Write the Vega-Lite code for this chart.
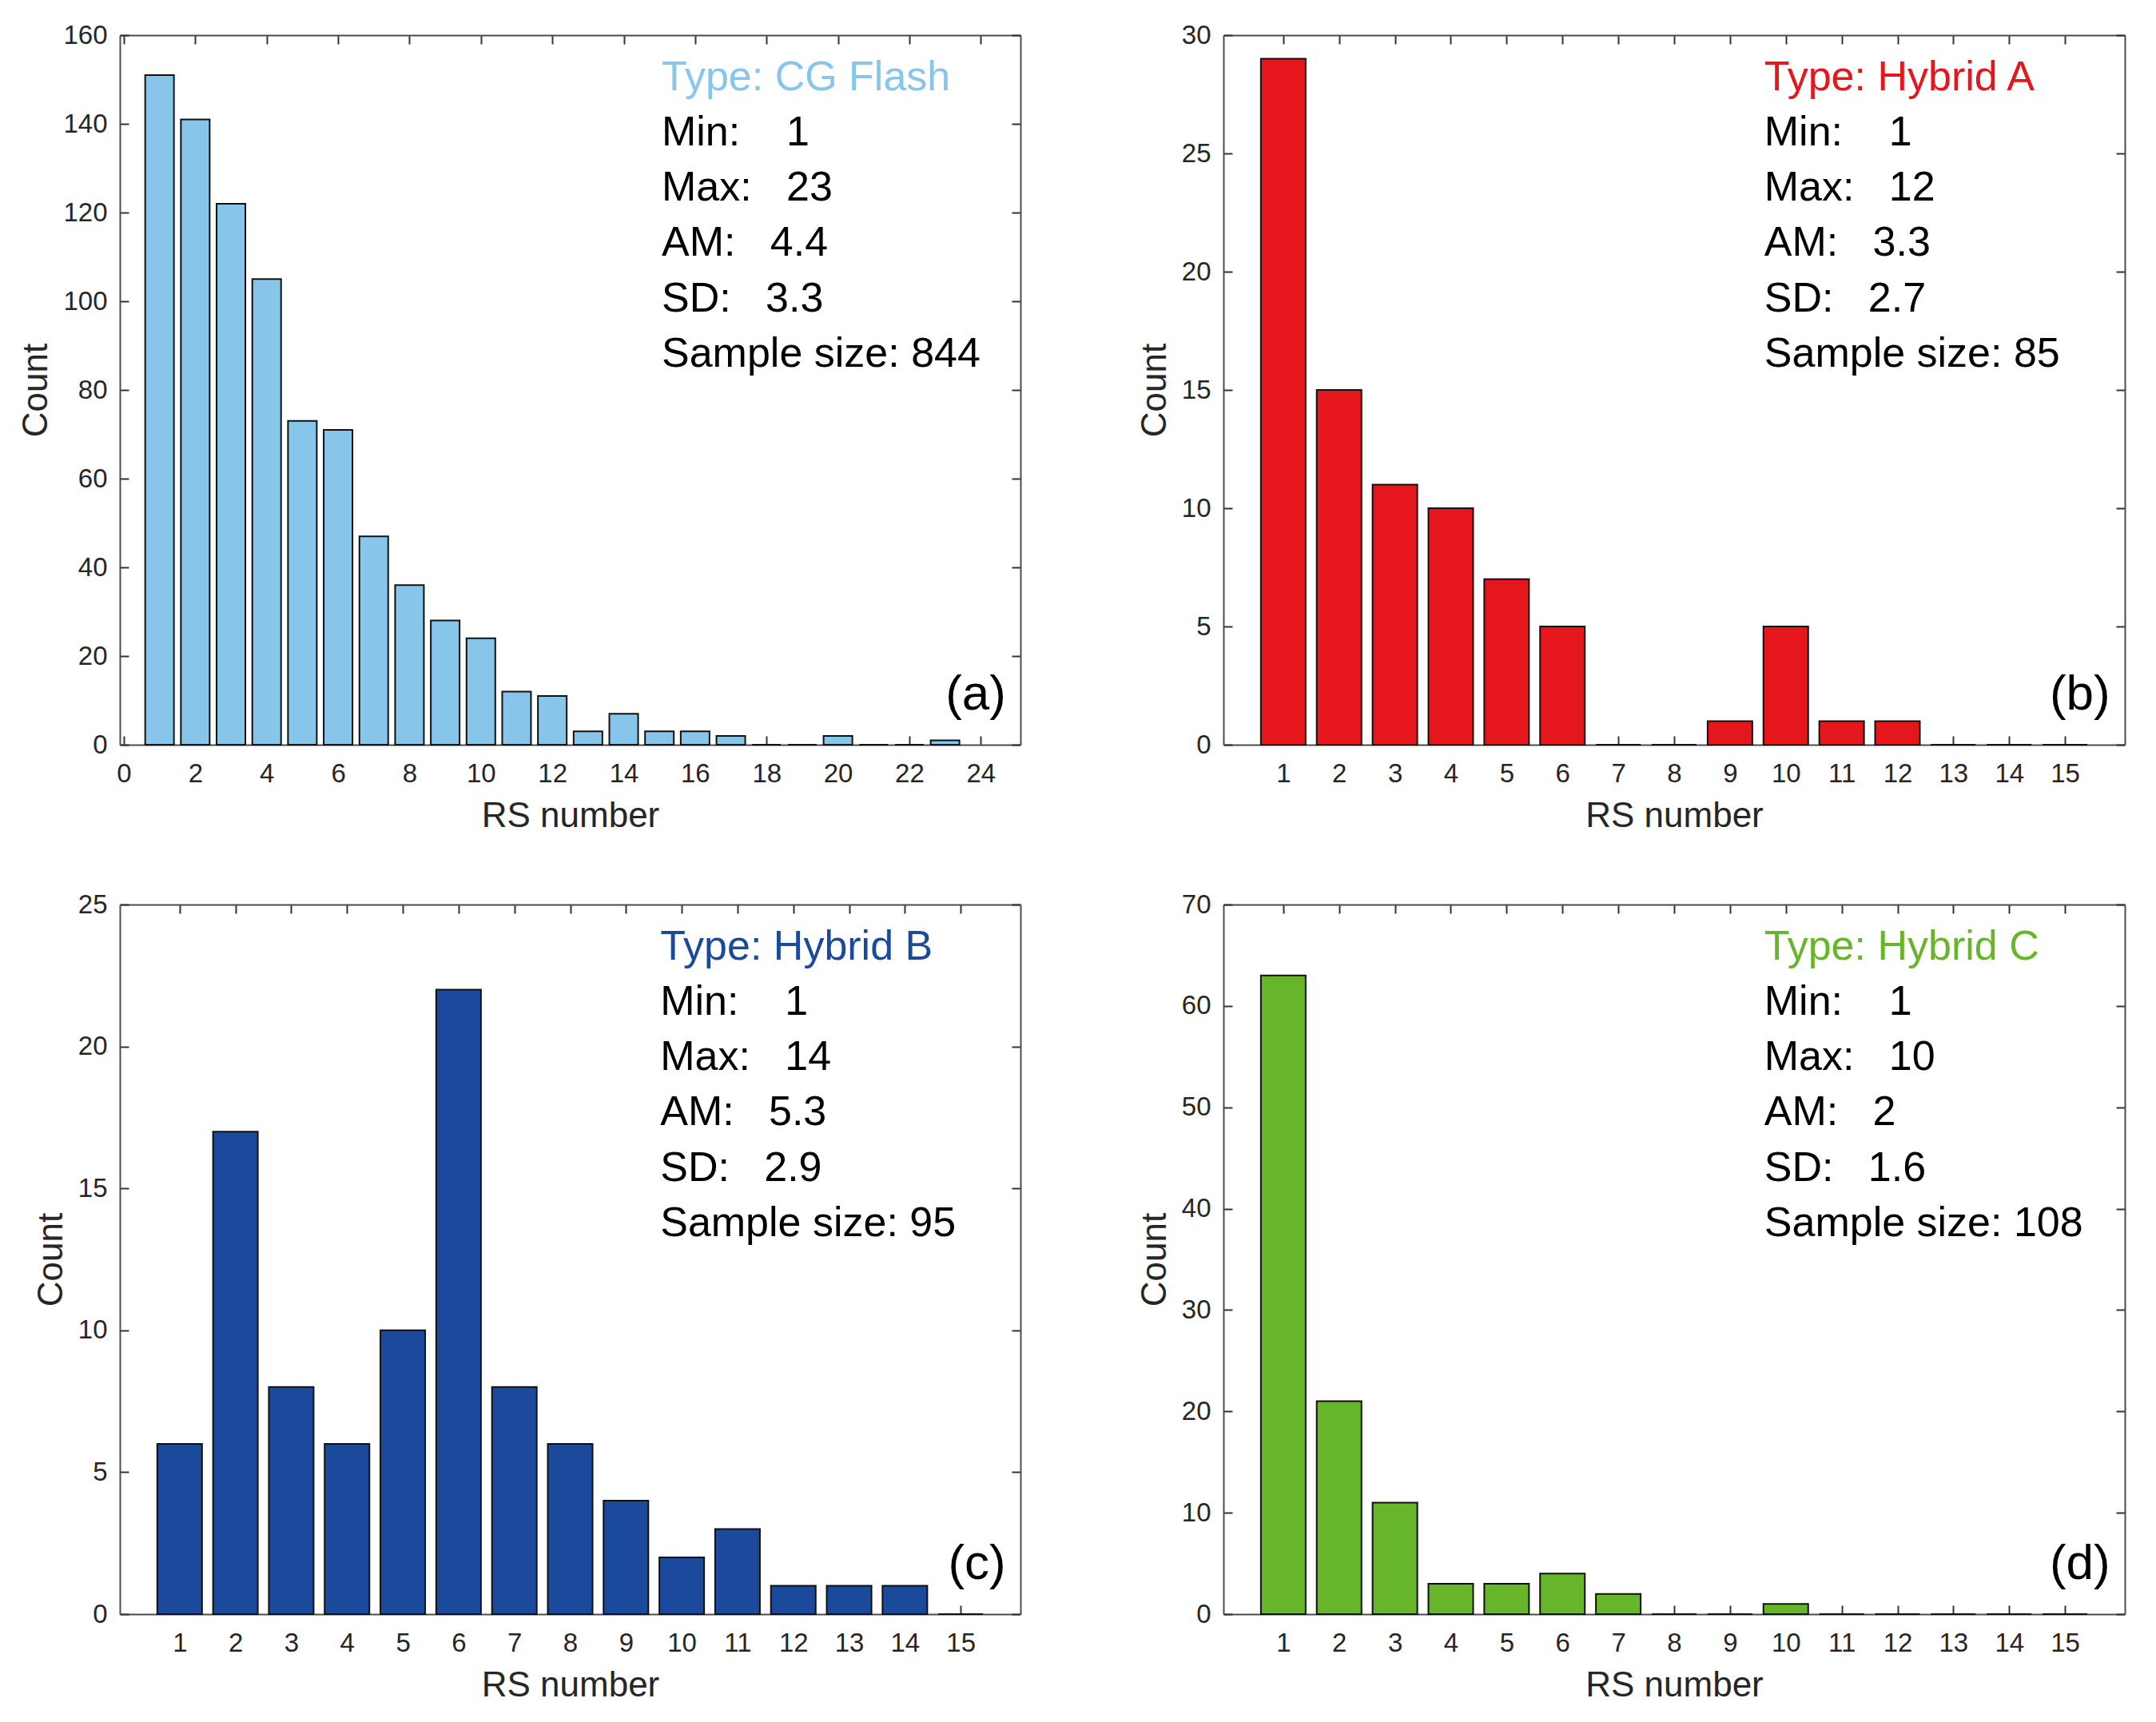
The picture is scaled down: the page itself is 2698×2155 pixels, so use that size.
{
  "$schema": "https://vega.github.io/schema/vega-lite/v6.json",
  "background": "white",
  "padding": {"left": 23, "top": 28, "right": 10, "bottom": 10},
  "columns": 2,
  "spacing": {"column": 145, "row": 73},
  "concat": [
    {
      "width": 1127,
      "height": 888,
      "layer": [
        {
          "data": {"values": [
            {"rs": 1, "count": 151}, {"rs": 2, "count": 141}, {"rs": 3, "count": 122}, {"rs": 4, "count": 105},
            {"rs": 5, "count": 73}, {"rs": 6, "count": 71}, {"rs": 7, "count": 47}, {"rs": 8, "count": 36},
            {"rs": 9, "count": 28}, {"rs": 10, "count": 24}, {"rs": 11, "count": 12}, {"rs": 12, "count": 11},
            {"rs": 13, "count": 3}, {"rs": 14, "count": 7}, {"rs": 15, "count": 3}, {"rs": 16, "count": 3},
            {"rs": 17, "count": 2}, {"rs": 18, "count": 0}, {"rs": 19, "count": 0}, {"rs": 20, "count": 2},
            {"rs": 21, "count": 0}, {"rs": 22, "count": 0}, {"rs": 23, "count": 1}
          ]},
          "layer": [
            {
              "mark": {"type": "bar", "size": 36, "color": "#88C5EA", "stroke": "#111111", "strokeWidth": 2},
              "encoding": {
                "x": {"field": "rs", "type": "quantitative", "scale": {"domain": [0, 25], "nice": false, "zero": false},
                      "axis": {"values": [0, 2, 4, 6, 8, 10, 12, 14, 16, 18, 20, 22, 24], "title": "RS number"}},
                "y": {"field": "count", "type": "quantitative", "scale": {"domain": [0, 160], "nice": false},
                      "axis": {"values": [0, 20, 40, 60, 80, 100, 120, 140, 160], "title": "Count"}}
              }
            },
            {
              "mark": {"type": "rule", "opacity": 0},
              "encoding": {
                "x": {"field": "rs", "type": "quantitative", "scale": {"domain": [0, 25], "nice": false, "zero": false},
                      "axis": {"orient": "top", "labels": false, "title": null, "values": [0, 2, 4, 6, 8, 10, 12, 14, 16, 18, 20, 22, 24]}},
                "y": {"field": "count", "type": "quantitative", "scale": {"domain": [0, 160], "nice": false},
                      "axis": {"orient": "right", "labels": false, "title": null, "values": [0, 20, 40, 60, 80, 100, 120, 140, 160]}}
              }
            }
          ],
          "resolve": {"axis": {"x": "independent", "y": "independent"}}
        },
        {
          "data": {"values": [{"line": 0, "text": "Type: CG Flash"}]},
          "mark": {"type": "text", "align": "left", "baseline": "alphabetic", "fontSize": 52, "color": "#88C5EA"},
          "encoding": {
            "x": {"datum": 15.04, "type": "quantitative", "scale": {"domain": [0, 25], "nice": false, "zero": false}, "axis": null},
            "y": {"field": "line", "type": "quantitative", "scale": {"domain": [-0.99, 11.83], "reverse": true, "nice": false, "zero": false}, "axis": null},
            "text": {"field": "text"}
          }
        },
        {
          "data": {"values": [
            {"line": 1, "text": "Min:\u00a0\u00a0\u00a0\u00a01"}, {"line": 2, "text": "Max:\u00a0\u00a0\u00a023"}, {"line": 3, "text": "AM:\u00a0\u00a0\u00a04.4"},
            {"line": 4, "text": "SD:\u00a0\u00a0\u00a03.3"}, {"line": 5, "text": "Sample size: 844"}
          ]},
          "mark": {"type": "text", "align": "left", "baseline": "alphabetic", "fontSize": 52, "color": "#000000"},
          "encoding": {
            "x": {"datum": 15.04, "type": "quantitative", "scale": {"domain": [0, 25], "nice": false, "zero": false}, "axis": null},
            "y": {"field": "line", "type": "quantitative", "scale": {"domain": [-0.99, 11.83], "reverse": true, "nice": false, "zero": false}, "axis": null},
            "text": {"field": "text"}
          }
        },
        {
          "data": {"values": [{"label": "(a)"}]},
          "mark": {"type": "text", "align": "right", "baseline": "alphabetic", "fontSize": 62, "color": "#000000"},
          "encoding": {
            "x": {"datum": 24.6, "type": "quantitative", "scale": {"domain": [0, 25], "nice": false, "zero": false}, "axis": null},
            "y": {"datum": 7.93, "type": "quantitative", "scale": {"domain": [0, 160], "nice": false}, "axis": null},
            "text": {"field": "label"}
          }
        }
      ],
      "resolve": {"scale": {"x": "independent", "y": "independent"}, "axis": {"x": "independent", "y": "independent"}}
    },
    {
      "width": 1128,
      "height": 888,
      "layer": [
        {
          "data": {"values": [
            {"rs": 1, "count": 29}, {"rs": 2, "count": 15}, {"rs": 3, "count": 11}, {"rs": 4, "count": 10},
            {"rs": 5, "count": 7}, {"rs": 6, "count": 5}, {"rs": 7, "count": 0}, {"rs": 8, "count": 0},
            {"rs": 9, "count": 1}, {"rs": 10, "count": 5}, {"rs": 11, "count": 1}, {"rs": 12, "count": 1},
            {"rs": 13, "count": 0}, {"rs": 14, "count": 0}, {"rs": 15, "count": 0}
          ]},
          "layer": [
            {
              "mark": {"type": "bar", "size": 56, "color": "#E5161C", "stroke": "#111111", "strokeWidth": 2},
              "encoding": {
                "x": {"field": "rs", "type": "quantitative", "scale": {"domain": [0, 16], "nice": false, "zero": false},
                      "axis": {"values": [1, 2, 3, 4, 5, 6, 7, 8, 9, 10, 11, 12, 13, 14, 15], "title": "RS number"}},
                "y": {"field": "count", "type": "quantitative", "scale": {"domain": [0, 30], "nice": false},
                      "axis": {"values": [0, 5, 10, 15, 20, 25, 30], "title": "Count"}}
              }
            },
            {
              "mark": {"type": "rule", "opacity": 0},
              "encoding": {
                "x": {"field": "rs", "type": "quantitative", "scale": {"domain": [0, 16], "nice": false, "zero": false},
                      "axis": {"orient": "top", "labels": false, "title": null, "values": [1, 2, 3, 4, 5, 6, 7, 8, 9, 10, 11, 12, 13, 14, 15]}},
                "y": {"field": "count", "type": "quantitative", "scale": {"domain": [0, 30], "nice": false},
                      "axis": {"orient": "right", "labels": false, "title": null, "values": [0, 5, 10, 15, 20, 25, 30]}}
              }
            }
          ],
          "resolve": {"axis": {"x": "independent", "y": "independent"}}
        },
        {
          "data": {"values": [{"line": 0, "text": "Type: Hybrid A"}]},
          "mark": {"type": "text", "align": "left", "baseline": "alphabetic", "fontSize": 52, "color": "#E5161C"},
          "encoding": {
            "x": {"datum": 9.6, "type": "quantitative", "scale": {"domain": [0, 16], "nice": false, "zero": false}, "axis": null},
            "y": {"field": "line", "type": "quantitative", "scale": {"domain": [-0.99, 11.83], "reverse": true, "nice": false, "zero": false}, "axis": null},
            "text": {"field": "text"}
          }
        },
        {
          "data": {"values": [
            {"line": 1, "text": "Min:\u00a0\u00a0\u00a0\u00a01"}, {"line": 2, "text": "Max:\u00a0\u00a0\u00a012"}, {"line": 3, "text": "AM:\u00a0\u00a0\u00a03.3"},
            {"line": 4, "text": "SD:\u00a0\u00a0\u00a02.7"}, {"line": 5, "text": "Sample size: 85"}
          ]},
          "mark": {"type": "text", "align": "left", "baseline": "alphabetic", "fontSize": 52, "color": "#000000"},
          "encoding": {
            "x": {"datum": 9.6, "type": "quantitative", "scale": {"domain": [0, 16], "nice": false, "zero": false}, "axis": null},
            "y": {"field": "line", "type": "quantitative", "scale": {"domain": [-0.99, 11.83], "reverse": true, "nice": false, "zero": false}, "axis": null},
            "text": {"field": "text"}
          }
        },
        {
          "data": {"values": [{"label": "(b)"}]},
          "mark": {"type": "text", "align": "right", "baseline": "alphabetic", "fontSize": 62, "color": "#000000"},
          "encoding": {
            "x": {"datum": 15.74, "type": "quantitative", "scale": {"domain": [0, 16], "nice": false, "zero": false}, "axis": null},
            "y": {"datum": 1.49, "type": "quantitative", "scale": {"domain": [0, 30], "nice": false}, "axis": null},
            "text": {"field": "label"}
          }
        }
      ],
      "resolve": {"scale": {"x": "independent", "y": "independent"}, "axis": {"x": "independent", "y": "independent"}}
    },
    {
      "width": 1127,
      "height": 888,
      "layer": [
        {
          "data": {"values": [
            {"rs": 1, "count": 6}, {"rs": 2, "count": 17}, {"rs": 3, "count": 8}, {"rs": 4, "count": 6},
            {"rs": 5, "count": 10}, {"rs": 6, "count": 22}, {"rs": 7, "count": 8}, {"rs": 8, "count": 6},
            {"rs": 9, "count": 4}, {"rs": 10, "count": 2}, {"rs": 11, "count": 3}, {"rs": 12, "count": 1},
            {"rs": 13, "count": 1}, {"rs": 14, "count": 1}, {"rs": 15, "count": 0}
          ]},
          "layer": [
            {
              "mark": {"type": "bar", "size": 56, "color": "#1B4A9D", "stroke": "#111111", "strokeWidth": 2},
              "encoding": {
                "x": {"field": "rs", "type": "quantitative", "scale": {"domain": [0, 16], "nice": false, "zero": false},
                      "axis": {"values": [1, 2, 3, 4, 5, 6, 7, 8, 9, 10, 11, 12, 13, 14, 15], "title": "RS number"}},
                "y": {"field": "count", "type": "quantitative", "scale": {"domain": [0, 25], "nice": false},
                      "axis": {"values": [0, 5, 10, 15, 20, 25], "title": "Count"}}
              }
            },
            {
              "mark": {"type": "rule", "opacity": 0},
              "encoding": {
                "x": {"field": "rs", "type": "quantitative", "scale": {"domain": [0, 16], "nice": false, "zero": false},
                      "axis": {"orient": "top", "labels": false, "title": null, "values": [1, 2, 3, 4, 5, 6, 7, 8, 9, 10, 11, 12, 13, 14, 15]}},
                "y": {"field": "count", "type": "quantitative", "scale": {"domain": [0, 25], "nice": false},
                      "axis": {"orient": "right", "labels": false, "title": null, "values": [0, 5, 10, 15, 20, 25]}}
              }
            }
          ],
          "resolve": {"axis": {"x": "independent", "y": "independent"}}
        },
        {
          "data": {"values": [{"line": 0, "text": "Type: Hybrid B"}]},
          "mark": {"type": "text", "align": "left", "baseline": "alphabetic", "fontSize": 52, "color": "#1B4A9D"},
          "encoding": {
            "x": {"datum": 9.6, "type": "quantitative", "scale": {"domain": [0, 16], "nice": false, "zero": false}, "axis": null},
            "y": {"field": "line", "type": "quantitative", "scale": {"domain": [-0.99, 11.83], "reverse": true, "nice": false, "zero": false}, "axis": null},
            "text": {"field": "text"}
          }
        },
        {
          "data": {"values": [
            {"line": 1, "text": "Min:\u00a0\u00a0\u00a0\u00a01"}, {"line": 2, "text": "Max:\u00a0\u00a0\u00a014"}, {"line": 3, "text": "AM:\u00a0\u00a0\u00a05.3"},
            {"line": 4, "text": "SD:\u00a0\u00a0\u00a02.9"}, {"line": 5, "text": "Sample size: 95"}
          ]},
          "mark": {"type": "text", "align": "left", "baseline": "alphabetic", "fontSize": 52, "color": "#000000"},
          "encoding": {
            "x": {"datum": 9.6, "type": "quantitative", "scale": {"domain": [0, 16], "nice": false, "zero": false}, "axis": null},
            "y": {"field": "line", "type": "quantitative", "scale": {"domain": [-0.99, 11.83], "reverse": true, "nice": false, "zero": false}, "axis": null},
            "text": {"field": "text"}
          }
        },
        {
          "data": {"values": [{"label": "(c)"}]},
          "mark": {"type": "text", "align": "right", "baseline": "alphabetic", "fontSize": 62, "color": "#000000"},
          "encoding": {
            "x": {"datum": 15.74, "type": "quantitative", "scale": {"domain": [0, 16], "nice": false, "zero": false}, "axis": null},
            "y": {"datum": 1.24, "type": "quantitative", "scale": {"domain": [0, 25], "nice": false}, "axis": null},
            "text": {"field": "label"}
          }
        }
      ],
      "resolve": {"scale": {"x": "independent", "y": "independent"}, "axis": {"x": "independent", "y": "independent"}}
    },
    {
      "width": 1128,
      "height": 888,
      "layer": [
        {
          "data": {"values": [
            {"rs": 1, "count": 63}, {"rs": 2, "count": 21}, {"rs": 3, "count": 11}, {"rs": 4, "count": 3},
            {"rs": 5, "count": 3}, {"rs": 6, "count": 4}, {"rs": 7, "count": 2}, {"rs": 8, "count": 0},
            {"rs": 9, "count": 0}, {"rs": 10, "count": 1}, {"rs": 11, "count": 0}, {"rs": 12, "count": 0},
            {"rs": 13, "count": 0}, {"rs": 14, "count": 0}, {"rs": 15, "count": 0}
          ]},
          "layer": [
            {
              "mark": {"type": "bar", "size": 56, "color": "#67B52A", "stroke": "#111111", "strokeWidth": 2},
              "encoding": {
                "x": {"field": "rs", "type": "quantitative", "scale": {"domain": [0, 16], "nice": false, "zero": false},
                      "axis": {"values": [1, 2, 3, 4, 5, 6, 7, 8, 9, 10, 11, 12, 13, 14, 15], "title": "RS number"}},
                "y": {"field": "count", "type": "quantitative", "scale": {"domain": [0, 70], "nice": false},
                      "axis": {"values": [0, 10, 20, 30, 40, 50, 60, 70], "title": "Count"}}
              }
            },
            {
              "mark": {"type": "rule", "opacity": 0},
              "encoding": {
                "x": {"field": "rs", "type": "quantitative", "scale": {"domain": [0, 16], "nice": false, "zero": false},
                      "axis": {"orient": "top", "labels": false, "title": null, "values": [1, 2, 3, 4, 5, 6, 7, 8, 9, 10, 11, 12, 13, 14, 15]}},
                "y": {"field": "count", "type": "quantitative", "scale": {"domain": [0, 70], "nice": false},
                      "axis": {"orient": "right", "labels": false, "title": null, "values": [0, 10, 20, 30, 40, 50, 60, 70]}}
              }
            }
          ],
          "resolve": {"axis": {"x": "independent", "y": "independent"}}
        },
        {
          "data": {"values": [{"line": 0, "text": "Type: Hybrid C"}]},
          "mark": {"type": "text", "align": "left", "baseline": "alphabetic", "fontSize": 52, "color": "#67B52A"},
          "encoding": {
            "x": {"datum": 9.6, "type": "quantitative", "scale": {"domain": [0, 16], "nice": false, "zero": false}, "axis": null},
            "y": {"field": "line", "type": "quantitative", "scale": {"domain": [-0.99, 11.83], "reverse": true, "nice": false, "zero": false}, "axis": null},
            "text": {"field": "text"}
          }
        },
        {
          "data": {"values": [
            {"line": 1, "text": "Min:\u00a0\u00a0\u00a0\u00a01"}, {"line": 2, "text": "Max:\u00a0\u00a0\u00a010"}, {"line": 3, "text": "AM:\u00a0\u00a0\u00a02"},
            {"line": 4, "text": "SD:\u00a0\u00a0\u00a01.6"}, {"line": 5, "text": "Sample size: 108"}
          ]},
          "mark": {"type": "text", "align": "left", "baseline": "alphabetic", "fontSize": 52, "color": "#000000"},
          "encoding": {
            "x": {"datum": 9.6, "type": "quantitative", "scale": {"domain": [0, 16], "nice": false, "zero": false}, "axis": null},
            "y": {"field": "line", "type": "quantitative", "scale": {"domain": [-0.99, 11.83], "reverse": true, "nice": false, "zero": false}, "axis": null},
            "text": {"field": "text"}
          }
        },
        {
          "data": {"values": [{"label": "(d)"}]},
          "mark": {"type": "text", "align": "right", "baseline": "alphabetic", "fontSize": 62, "color": "#000000"},
          "encoding": {
            "x": {"datum": 15.74, "type": "quantitative", "scale": {"domain": [0, 16], "nice": false, "zero": false}, "axis": null},
            "y": {"datum": 3.47, "type": "quantitative", "scale": {"domain": [0, 70], "nice": false}, "axis": null},
            "text": {"field": "label"}
          }
        }
      ],
      "resolve": {"scale": {"x": "independent", "y": "independent"}, "axis": {"x": "independent", "y": "independent"}}
    }
  ],
  "config": {
    "font": "Liberation Sans",
    "view": {"stroke": null},
    "text": {"font": "Liberation Sans"},
    "axis": {
      "grid": false,
      "domainColor": "#4d4d4d",
      "domainWidth": 2,
      "tickColor": "#333333",
      "tickWidth": 2,
      "tickSize": -11,
      "labelFont": "Liberation Sans",
      "labelFontSize": 33,
      "labelColor": "#262626",
      "labelFlush": false,
      "labelOverlap": false,
      "titleFont": "Liberation Sans",
      "titleFontSize": 44,
      "titleFontWeight": "normal",
      "titleColor": "#262626"
    },
    "axisX": {"labelPadding": 31, "titlePadding": 14},
    "axisY": {"labelPadding": 27, "titlePadding": 11}
  }
}
